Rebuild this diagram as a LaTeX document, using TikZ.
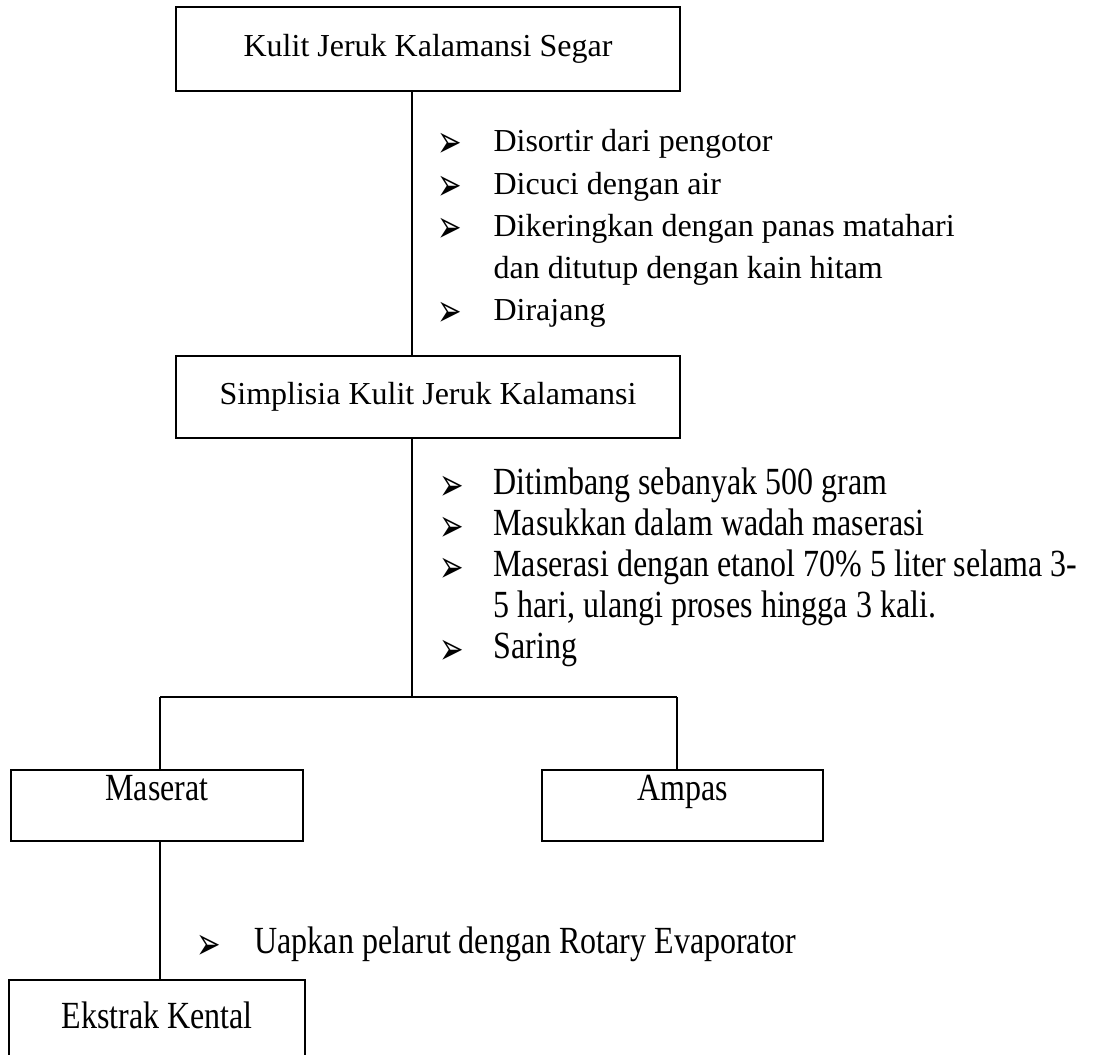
\documentclass[tikz,border=0pt]{standalone}
\usepackage{fontspec}
\usepackage{graphicx}
\setmainfont{Liberation Serif}
\newfontfamily\dingfont{DejaVu Sans}
% lower half of the chart is set a little taller
\newcommand{\tallish}[1]{\scalebox{1}[1.2]{#1}}
% arrowhead list mark
\newcommand{\arrowmark}{\scalebox{1}[1.55]{➢}}
\begin{document}
\begin{tikzpicture}[x=0.375pt, y=-0.375pt,
  font=\fontsize{12}{14}\selectfont,
  stepbox/.style={draw, line width=0.6pt, inner sep=0pt},
  lowbox/.style={draw, line width=1pt, inner sep=0pt},
  link/.style={line width=0.6pt},
  lowlink/.style={line width=1pt},
  itemtext/.style={anchor=mid west, inner sep=0pt},
  boxtext/.style={anchor=mid, inner sep=0pt},
  bullet/.style={anchor=west, inner sep=0pt, font=\dingfont\fontsize{11}{12}\selectfont}]
\useasboundingbox (0,0) rectangle (1093,1054);
\fill[white] (0,0) rectangle (1093,1054);

% main trunk and split points
\coordinate (trunk) at (412,0);
\coordinate (splitL) at (160,697);
\coordinate (splitR) at (677,697);

% boxes
\node[stepbox, minimum width=504*0.375pt, minimum height=84*0.375pt] (fresh) at (428,49) {Kulit Jeruk Kalamansi Segar};
\node[stepbox, minimum width=504*0.375pt, minimum height=82*0.375pt] (simp) at (428,397) {Simplisia Kulit Jeruk Kalamansi};
\node[lowbox, minimum width=292*0.375pt, minimum height=71*0.375pt] (mas) at (157,805.5) {};
\node[boxtext] (mastext) at (157,794) {\tallish{Maserat}};
\node[lowbox, minimum width=281*0.375pt, minimum height=71*0.375pt] (amp) at (682.5,805.5) {};
\node[boxtext] (amptext) at (682.5,794) {\tallish{Ampas}};
\node[lowbox, minimum width=296*0.375pt, minimum height=90*0.375pt] (eks) at (157,1025) {};
\node[boxtext] (ekstext) at (157,1022) {\tallish{Ekstrak Kental}};

% first list of steps
\node[bullet] (b11) at (437,145) {\arrowmark};
\node[itemtext] (t11) at (493,145) {Disortir dari pengotor};
\node[bullet] (b12) at (437,188) {\arrowmark};
\node[itemtext] (t12) at (493,188) {Dicuci dengan air};
\node[bullet] (b13) at (437,230) {\arrowmark};
\node[itemtext] (t13) at (493,230) {Dikeringkan dengan panas matahari};
\node[itemtext] (t13b) at (493,272) {dan ditutup dengan kain hitam};
\node[bullet] (b14) at (437,314) {\arrowmark};
\node[itemtext] (t14) at (493,314) {Dirajang};

% second list of steps
\node[bullet] (b21) at (439,488) {\arrowmark};
\node[itemtext] (t21) at (493,488) {\tallish{Ditimbang sebanyak 500 gram}};
\node[bullet] (b22) at (439,529) {\arrowmark};
\node[itemtext] (t22) at (493,529) {\tallish{Masukkan dalam wadah maserasi}};
\node[bullet] (b23) at (439,570) {\arrowmark};
\node[itemtext] (t23) at (493,570) {\tallish{Maserasi dengan etanol 70\% 5 liter selama 3-}};
\node[itemtext] (t23b) at (493,611) {\tallish{5 hari, ulangi proses hingga 3 kali.}};
\node[bullet] (b24) at (439,652) {\arrowmark};
\node[itemtext] (t24) at (493,652) {\tallish{Saring}};

% last step
\node[bullet] (b31) at (196,947) {\arrowmark};
\node[itemtext] (t31) at (254,947) {\tallish{Uapkan pelarut dengan Rotary Evaporator}};

% connectors
\draw[link] (fresh.south -| trunk) -- (simp.north -| trunk);
\draw[link] (simp.south -| trunk) -- (trunk |- splitL);
\draw[lowlink] (splitL) -- (splitR);
\draw[lowlink] (splitL) -- (splitL |- mas.north);
\draw[lowlink] (splitR) -- (splitR |- amp.north);
\draw[lowlink] (mas.south -| splitL) -- (eks.north -| splitL);
\end{tikzpicture}
\end{document}
